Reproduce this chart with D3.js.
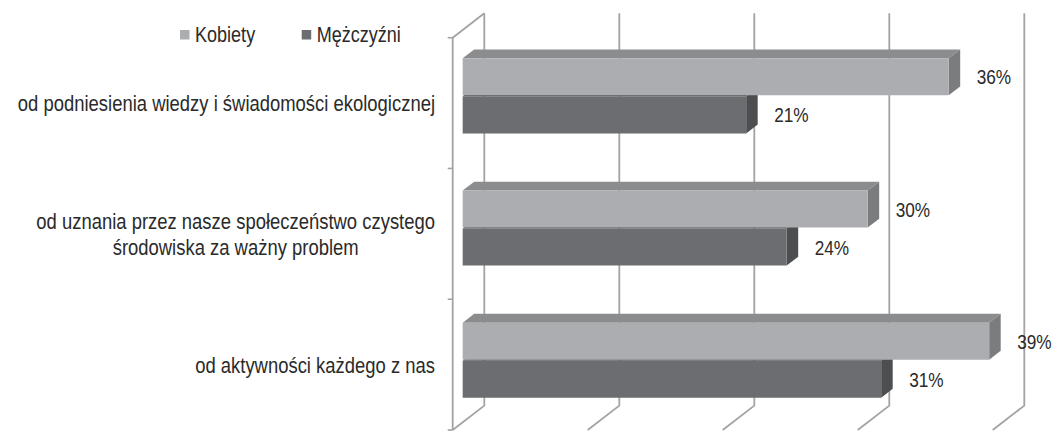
<!DOCTYPE html>
<html>
<head>
<meta charset="utf-8">
<script src="https://cdn.jsdelivr.net/npm/d3@7"></script>
<style>
  html, body { margin: 0; padding: 0; background: #fff; }
  svg { display: block; }
  text { font-family: "Liberation Sans", Arial, sans-serif; fill: #2a2a2a; }
</style>
</head>
<body>
<svg id="chart" width="1057" height="433"></svg>
<script>
// ---- data ----
const categories = [
  "od podniesienia wiedzy i świadomości ekologicznej",
  "od uznania przez nasze społeczeństwo czystego\nśrodowiska za ważny problem",
  "od aktywności każdego z nas"
];
const seriesNames = ["Kobiety", "Mężczyźni"];
const kobiety = [36, 30, 39];
const mezczyzni = [21, 24, 31];
const xTicks = [0, 10, 20, 30, 40];

// ---- layout ----
const svg = d3.select("#chart");
const colors = {
  Kobiety:   { front: "#abadb0", top: "#8b8c8e", side: "#7b7c7e" },
  "Mężczyźni": { front: "#6c6d70", top: "#5a5b5d", side: "#4d4e50" }
};
const gridColor = "#a3a3a3";
const SX = 0.82; // condensed look of the original typeface

// helper: place a horizontally condensed text
function ctext(parent, X, Y, size, str, anchor) {
  return parent.append("text")
    .attr("transform", `translate(${X},${Y}) scale(${SX},1)`)
    .attr("font-size", size)
    .attr("text-anchor", anchor || "start")
    .text(str);
}

// front plane scales
const x = d3.scaleLinear().domain([0, 40]).range([452.7, 992.7]);
const yAxis = d3.scaleBand().domain(categories).range([37.7, 430]);
const yBar = yAxis.copy().range([37.5, 434]);
// depth vector (front -> back wall)
const D = { dx: 31.6, dy: -24.4 };
const d0 = 0.316, d1 = 0.68; // bar depth extent
const P = (xv, y, d) => [x(xv) + D.dx * d, y + D.dy * d];

const floorY = yAxis.range()[1];
const topY = yAxis.range()[0];

// ---- walls & grid ----
const g = svg.append("g");
xTicks.forEach(t => {
  const b0 = P(t, topY, 1), b1 = P(t, floorY, 1), f1 = P(t, floorY, 0);
  g.append("path")
    .attr("d", d3.line()([b0, b1, f1]))
    .attr("fill", "none").attr("stroke", gridColor).attr("stroke-width", 1.8);
});
g.append("path")
  .attr("d", d3.line()([P(0, topY, 1), P(0, topY, 0), P(0, floorY, 0)]))
  .attr("fill", "none").attr("stroke", gridColor).attr("stroke-width", 1.8);
const tickYs = categories.map(c => yAxis(c)).concat([floorY]);
tickYs.forEach(ty => {
  g.append("line")
    .attr("x1", x(0) - 5).attr("x2", x(0))
    .attr("y1", ty).attr("y2", ty)
    .attr("stroke", gridColor).attr("stroke-width", 1.6);
});

// ---- bars ----
const bars = svg.append("g");
const barH = yBar.bandwidth() * 0.28;
const gap = 1;
const series = [
  { name: "Mężczyźni", values: mezczyzni, pos: 1 },
  { name: "Kobiety", values: kobiety, pos: 0 }
];
categories.forEach((cat, i) => {
  const cFront = yBar(cat) + yBar.bandwidth() / 2;
  series.forEach(s => {
    const v = s.values[i];
    const col = colors[s.name];
    const yTop = s.pos === 0 ? cFront - barH - gap / 2 : cFront + gap / 2;
    const yBot = yTop + barH;
    const A = P(0, yTop, d0), B = P(v, yTop, d0), C = P(v, yBot, d0), E = P(0, yBot, d0);
    const A1 = P(0, yTop, d1), B1 = P(v, yTop, d1), C1 = P(v, yBot, d1);
    bars.append("path").attr("d", d3.line()([A, B, B1, A1]) + "Z").attr("fill", col.top);
    bars.append("path").attr("d", d3.line()([B, C, C1, B1]) + "Z").attr("fill", col.side);
    bars.append("path").attr("d", d3.line()([A, B, C, E]) + "Z").attr("fill", col.front);
    ctext(bars, B[0] + 28, (A[1] + E[1]) / 2 + 7.5, 21, v + "%");
  });
});

// ---- category labels ----
const labelRight = 435;
const labels = svg.append("g");
categories.forEach(cat => {
  const lines = cat.split("\n");
  const cy = yAxis(cat) + yAxis.bandwidth() / 2;
  const lh = 26;
  const ts = lines.map((ln, k) =>
    ctext(labels, 0, cy + 8 + (k - (lines.length - 1) / 2) * lh, 22.5, ln, "middle"));
  const widths = ts.map(t => t.node().getComputedTextLength() * SX);
  const maxW = d3.max(widths);
  ts.forEach((t, k) => {
    const yy = cy + 8 + (k - (lines.length - 1) / 2) * lh;
    t.attr("transform", `translate(${labelRight - maxW / 2},${yy}) scale(${SX},1)`);
  });
});

// ---- legend ----
const legend = svg.append("g");
const legendX = [180, 301.7];
seriesNames.forEach((name, k) => {
  legend.append("rect")
    .attr("x", legendX[k]).attr("y", 30)
    .attr("width", 9.5).attr("height", 9.5)
    .attr("fill", colors[name].front);
  ctext(legend, legendX[k] + 15, 41.5, 22, name);
});
</script>
</body>
</html>
